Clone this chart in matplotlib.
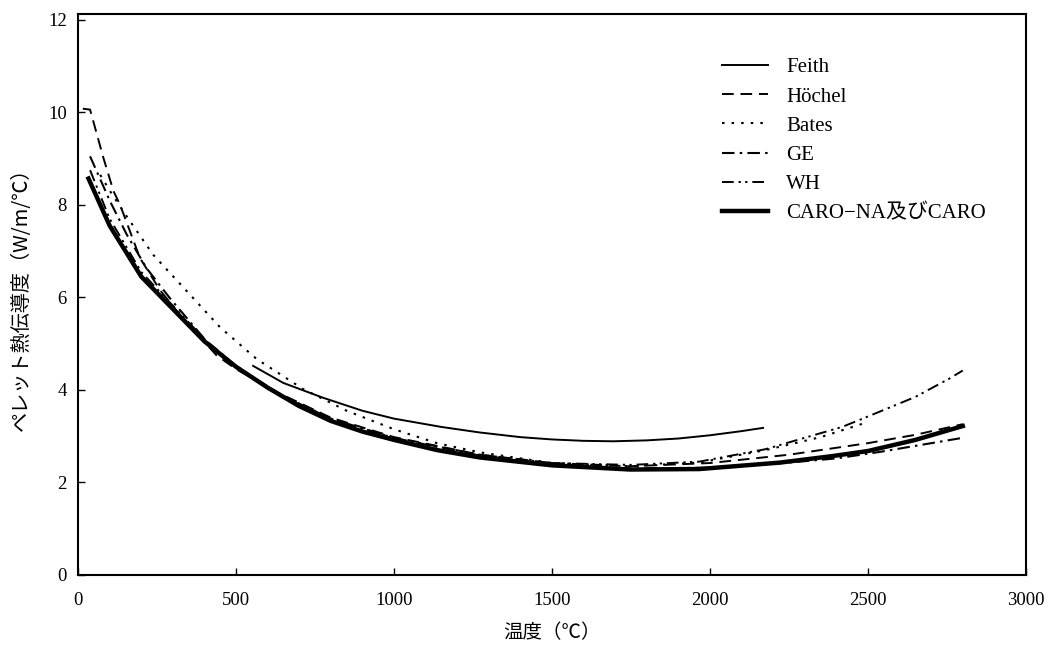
import matplotlib
matplotlib.use("Agg")
import matplotlib.pyplot as plt

# ---- data ----
feith_T = [554, 650, 776, 900, 1000, 1150, 1272, 1400, 1500, 1600, 1693, 1800, 1900, 2000, 2100, 2168]
feith_k = [4.52, 4.15, 3.83, 3.55, 3.38, 3.20, 3.08, 2.98, 2.93, 2.90, 2.89, 2.91, 2.95, 3.02, 3.11, 3.18]

hoechel_T = [15, 38, 80, 112, 133, 196, 260, 323, 438, 500, 639, 800, 1000, 1272, 1500, 1747, 2000, 2250, 2500, 2650, 2800]
hoechel_k = [10.08, 10.06, 9.02, 8.3, 8.0, 6.85, 6.15, 5.62, 4.75, 4.45, 3.92, 3.4, 2.98, 2.6, 2.42, 2.35, 2.42, 2.6, 2.85, 3.03, 3.26]

bates_T = [70, 101, 154, 238, 365, 450, 565, 712, 850, 1000, 1136, 1272, 1500, 1750, 1966, 2176, 2350, 2497]
bates_k = [8.65, 8.3, 7.75, 6.92, 5.98, 5.35, 4.67, 4.02, 3.55, 3.15, 2.85, 2.65, 2.42, 2.35, 2.43, 2.7, 2.98, 3.3]

ge_T = [38, 101, 154, 217, 291, 418, 500, 639, 800, 1000, 1272, 1500, 1747, 2000, 2250, 2400, 2537, 2804]
ge_k = [9.05, 8.08, 7.36, 6.63, 5.98, 4.96, 4.5, 3.9, 3.38, 2.96, 2.58, 2.4, 2.3, 2.32, 2.43, 2.52, 2.66, 2.97]

wh_T = [38, 100, 200, 300, 400, 500, 639, 800, 1000, 1272, 1500, 1750, 1966, 2176, 2418, 2494, 2650, 2756, 2800]
wh_k = [8.75, 7.7, 6.55, 5.82, 5.1, 4.52, 3.9, 3.38, 2.96, 2.6, 2.42, 2.38, 2.45, 2.72, 3.2, 3.41, 3.85, 4.24, 4.42]

caro_T = [33, 100, 200, 300, 400, 500, 600, 700, 800, 900, 1000, 1136, 1272, 1500, 1747, 1966, 2222, 2387, 2500, 2650, 2800]
caro_k = [8.57, 7.55, 6.45, 5.75, 5.05, 4.5, 4.05, 3.65, 3.33, 3.1, 2.92, 2.7, 2.54, 2.37, 2.28, 2.29, 2.43, 2.57, 2.68, 2.92, 3.22]

labels = ["Feith", "Höchel", "Bates", "GE", "WH", "CARO\u2212NA及びCARO"]
xticks = [0, 500, 1000, 1500, 2000, 2500, 3000]
yticks = [0, 2, 4, 6, 8, 10, 12]

fam = ["Liberation Serif", "Noto Sans CJK JP", "DejaVu Sans"]
plt.rcParams["font.family"] = fam

fig = plt.figure(figsize=(10.55, 6.5), dpi=100)
ax = fig.add_axes([0.074, 0.1154, 0.8985, 0.8626])

ax.plot(feith_T, feith_k, color="black", lw=1.4, linestyle="-", label=labels[0])
ax.plot(hoechel_T, hoechel_k, color="black", lw=1.4, linestyle=(0, (6, 3.5)), label=labels[1])
ax.plot(bates_T, bates_k, color="black", lw=1.5, linestyle=(0, (1.2, 3.4)), label=labels[2])
ax.plot(ge_T, ge_k, color="black", lw=1.5, linestyle=(0, (6, 2.5, 1.2, 2.5)), label=labels[3])
ax.plot(wh_T, wh_k, color="black", lw=1.4, linestyle=(0, (6, 2.5, 1.2, 2.2, 1.2, 2.5)), label=labels[4])
ax.plot(caro_T, caro_k, color="black", lw=3.2, linestyle="-", label=labels[5])

ax.set_xlim(0, 3000)
ax.set_ylim(0, 12.12)
ax.set_xticks(xticks)
ax.set_yticks(yticks)
ax.tick_params(direction="in", length=5, width=1, labelsize=13.5, top=False, right=False)
ax.tick_params(axis="x", pad=12)
ax.tick_params(axis="y", pad=8)
for s in ax.spines.values():
    s.set_linewidth(1.5)

ax.set_xlabel("温度（℃）", fontsize=14, family=["Noto Sans CJK JP", "DejaVu Sans"], labelpad=10)
ax.set_ylabel("ペレット熱伝導度（W/m/℃）", fontsize=14.5, family=["Noto Sans CJK JP", "DejaVu Sans"], labelpad=12)

leg = ax.legend(loc="upper left", bbox_to_anchor=(0.679, 0.9225), frameon=False,
                borderpad=0, borderaxespad=0,
                fontsize=15, handlelength=2.2, labelspacing=0.46, handletextpad=0.9)

fig.savefig("out.png", dpi=100)
